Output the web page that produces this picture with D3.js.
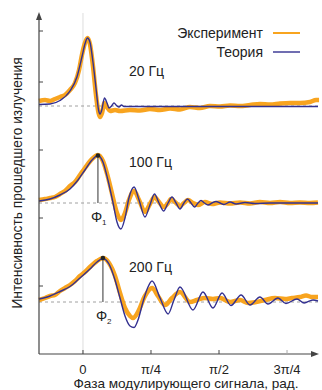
<!DOCTYPE html>
<html>
<head>
<meta charset="utf-8">
<script src="https://cdn.jsdelivr.net/npm/d3@7"></script>
<style>
  body { margin: 0; background: #fff; }
  text { font-family: "Liberation Sans", Arial, sans-serif; fill: #222; }
</style>
</head>
<body>
<svg id="chart"></svg>
<script>
// Фаза в градусах, интенсивность в условных единицах
const xTicks = [0, 45, 90, 135];
const xTickLabels = ["0", "π/4", "π/2", "3π/4"];
const yTicks = [68, 136, 204, 272, 323];

const baselines = [248, 151, 52];
const freqLabels = ["20 Гц", "100 Гц", "200 Гц"];
const freqLabelY = [278, 187, 82];

const theory20 = [[-29.1,249.5],[-21.8,250],[-15.2,253.5],[-8.6,263],[-4,277],[-0.7,297],[1.3,310],[3,316],[4.6,312],[6.6,292],[8.6,266],[10.3,244],[11.3,240],[12.6,245],[14.2,256],[15.9,251],[17.2,246],[18.9,248],[20.5,251],[22.5,248],[23.8,247],[25.5,249],[27.1,247.5],[31.1,247.5],[155.5,247.5]];
const exp20 = [[-29.1,253],[-25.1,254],[-21.8,253],[-18.5,255],[-15.2,257],[-11.9,259],[-8.6,264],[-5.3,271],[-2.6,284],[-0.7,299],[1.3,311],[3,316],[4.6,310],[6.6,288],[8.6,259],[10.3,241],[11.3,237],[12.6,241],[14.2,251],[15.9,247],[17.9,243],[21.2,244],[24.5,243],[31.1,244],[37.7,243.5],[44.3,245],[51,244],[57.6,245.5],[64.2,244.5],[70.8,247],[77.4,246],[84,248],[90.7,247.5],[97.3,248.5],[103.9,248],[110.5,249],[117.1,250],[123.8,249.5],[130.4,250.5],[137,251],[143.6,251],[150.2,252],[154.2,254],[156.2,254]];

const theory100 = [[-29.1,153],[-21.8,155],[-15.2,159],[-8.6,165],[-3.3,174],[1.3,184],[6,194],[9.9,198.5],[13.2,192],[16.5,174],[19.9,151],[22.5,132],[25.1,125],[27.8,136],[30.4,156],[33.8,167],[37.1,154],[41,137],[44.3,149],[47.3,160],[50.3,151],[53.3,143],[56.3,151],[58.9,157],[61.6,151],[64.2,145],[66.8,151],[69.2,155],[71.5,151],[73.8,147],[76.1,151],[78.1,153.5],[80.4,151],[82.7,149],[85.4,151],[88,152.5],[90.7,151],[93.3,149.5],[97.3,152],[101.3,150],[107.2,151.5],[113.8,150.5],[123.8,151],[155.5,151]];
const exp100 = [[-29.1,154],[-25.1,155],[-21.8,156],[-18.5,157],[-15.2,160],[-11.9,163],[-8.6,168],[-5.3,172],[-2,179],[1.3,186],[6,195],[9.9,199],[13.2,193],[16.5,177],[19.9,156],[22.5,141],[25.1,134],[27.8,141],[30.4,154],[33.8,163],[37.1,154],[41,142],[44.3,150],[47.3,157],[50.3,152],[53.3,147],[56.3,151],[58.2,155],[60.9,152],[64.2,148],[66.8,151],[69.5,154],[72.8,151],[76.1,149],[80.7,152],[85.4,150],[90.7,151.5],[97.3,150.5],[103.9,151.5],[110.5,150.5],[117.1,152],[123.8,151],[130.4,152],[137,151],[143.6,151.5],[150.2,151],[155.5,151.5]];

const theory200 = [[-29.1,55],[-21.8,58],[-15.2,62.5],[-8.6,67.5],[-2,76],[4.6,85],[9.3,92],[13.2,95.5],[17.2,90],[21.2,74],[24.5,56],[27.8,38],[31.1,28],[33.8,26.5],[36.4,34],[39.7,52],[43,67],[45.7,73],[51,56],[56.3,40],[60.2,54],[64.2,67],[72.8,44],[79.4,62],[86,46],[92,61],[97.9,48.5],[104.6,59],[110.5,49],[117.1,57],[122.4,50],[129,56],[134.3,50.5],[141.6,55],[146.3,51],[152.2,54],[155.5,53]];
const exp200 = [[-29.1,54],[-25.1,56],[-21.8,58],[-18.5,59],[-15.2,63],[-11.9,66],[-8.6,69],[-5.3,73],[-2,78],[1.3,82],[4.6,87],[9.3,93],[13.2,96],[17.2,91],[21.2,78],[24.5,61],[27.8,46],[31.1,38],[33.1,36],[36.4,42],[41,58],[45.7,66],[49.6,58],[54.3,49],[58.9,56],[64.2,62],[70.8,52],[75.4,54],[80.7,56],[86,55],[90.7,56],[97.3,52],[103.9,54],[109.2,51],[114.5,52],[120.4,54],[127.1,56],[133.7,55],[138.3,56],[143.6,57],[147.6,58.5],[151.5,57],[155.5,57]];

// пики, отмеченные Φ1 и Φ2
const phiPeaks = [[9.9, 198.5, 151, "1"], [13.2, 96, 52, "2"]];

const width = 322;
const height = 390;
const orange = "#f8a41f";
const blue = "#333090";

const svg = d3.select("#chart")
    .attr("width", width)
    .attr("height", height);

const x = d3.scaleLinear().domain([-29.1, 155.5]).range([39, 318]);
const y = d3.scaleLinear().domain([0, 341]).range([354, 13]);

// светлая линия на нуле фазы
svg.append("line")
    .attr("x1", x(0)).attr("x2", x(0))
    .attr("y1", 13).attr("y2", y(0))
    .attr("stroke", "#ddd").attr("stroke-width", 1);

// базовые пунктирные линии
svg.selectAll(".base")
    .data(baselines)
    .enter().append("line")
    .attr("class", "base")
    .attr("x1", x(-29.1)).attr("x2", x(155.5))
    .attr("y1", d => y(d)).attr("y2", d => y(d))
    .attr("stroke", "#888")
    .attr("stroke-width", 0.8)
    .attr("stroke-dasharray", "3,3");

const line = d3.line()
    .x(d => x(d[0]))
    .y(d => y(d[1]))
    .curve(d3.curveMonotoneX);

// эксперимент
[exp20, exp100, exp200].forEach(s => {
    svg.append("path")
        .attr("d", line(s))
        .attr("fill", "none")
        .attr("stroke", orange)
        .attr("stroke-width", 4.5)
        .attr("stroke-linejoin", "round");
});

// теория
[theory20, theory100, theory200].forEach(s => {
    svg.append("path")
        .attr("d", line(s))
        .attr("fill", "none")
        .attr("stroke", blue)
        .attr("stroke-width", 1.4);
});

// Φ маркеры
phiPeaks.forEach(p => {
    svg.append("line")
        .attr("x1", x(p[0])).attr("x2", x(p[0]))
        .attr("y1", y(p[1])).attr("y2", y(p[2]))
        .attr("stroke", "#333").attr("stroke-width", 1);
    svg.append("circle")
        .attr("cx", x(p[0])).attr("cy", y(p[1]))
        .attr("r", 2.3).attr("fill", "#222");
    const t = svg.append("text")
        .attr("x", x(p[0]) - 7)
        .attr("y", y(p[2]) + 19)
        .attr("font-size", 14)
        .text("Φ");
    t.append("tspan")
        .attr("font-size", 8)
        .attr("dy", 3)
        .text(p[3]);
});

// подписи частот
svg.selectAll(".freq")
    .data(freqLabels)
    .enter().append("text")
    .attr("class", "freq")
    .attr("x", x(30.5))
    .attr("y", (d, i) => y(freqLabelY[i]))
    .attr("font-size", 14)
    .text(d => d);

// оси
const axisColor = "#444";
svg.append("line")
    .attr("x1", x(-29.1)).attr("x2", x(-29.1))
    .attr("y1", y(0)).attr("y2", 17)
    .attr("stroke", axisColor).attr("stroke-width", 1.2);
svg.append("path")
    .attr("d", `M${x(-29.1) - 3},20 L${x(-29.1)},12 L${x(-29.1) + 3},20 Z`)
    .attr("fill", axisColor);
svg.append("line")
    .attr("x1", x(-29.1)).attr("x2", 314)
    .attr("y1", y(0)).attr("y2", y(0))
    .attr("stroke", axisColor).attr("stroke-width", 1.2);
svg.append("path")
    .attr("d", `M311,${y(0) - 3} L319,${y(0)} L311,${y(0) + 3} Z`)
    .attr("fill", axisColor);

svg.selectAll(".ytick")
    .data(yTicks)
    .enter().append("line")
    .attr("x1", x(-29.1)).attr("x2", x(-29.1) + 4)
    .attr("y1", d => y(d)).attr("y2", d => y(d))
    .attr("stroke", axisColor);

svg.selectAll(".xtick")
    .data(xTicks)
    .enter().append("line")
    .attr("x1", d => x(d)).attr("x2", d => x(d))
    .attr("y1", y(0)).attr("y2", y(0) - 4)
    .attr("stroke", (d, i) => i === 3 ? "#aaa" : axisColor);

svg.selectAll(".xlabel")
    .data(xTicks)
    .enter().append("text")
    .attr("x", d => x(d))
    .attr("y", 374)
    .attr("text-anchor", "middle")
    .attr("font-size", 13)
    .text((d, i) => xTickLabels[i]);

svg.append("text")
    .attr("x", 186)
    .attr("y", 388)
    .attr("text-anchor", "middle")
    .attr("font-size", 13.6)
    .text("Фаза модулирующего сигнала, рад.");

svg.append("text")
    .attr("transform", "translate(22,183) rotate(-90)")
    .attr("text-anchor", "middle")
    .attr("font-size", 13.8)
    .text("Интенсивность прошедшего излучения");

// легенда
const legend = [["Эксперимент", orange, 2], ["Теория", blue, 1.4]];
legend.forEach((l, i) => {
    svg.append("text")
        .attr("x", 263)
        .attr("y", 38 + i * 19)
        .attr("text-anchor", "end")
        .attr("font-size", 14)
        .text(l[0]);
    svg.append("line")
        .attr("x1", 273).attr("x2", 300)
        .attr("y1", 33 + i * 19).attr("y2", 33 + i * 19)
        .attr("stroke", l[1]).attr("stroke-width", l[2]);
});
</script>
</body>
</html>
